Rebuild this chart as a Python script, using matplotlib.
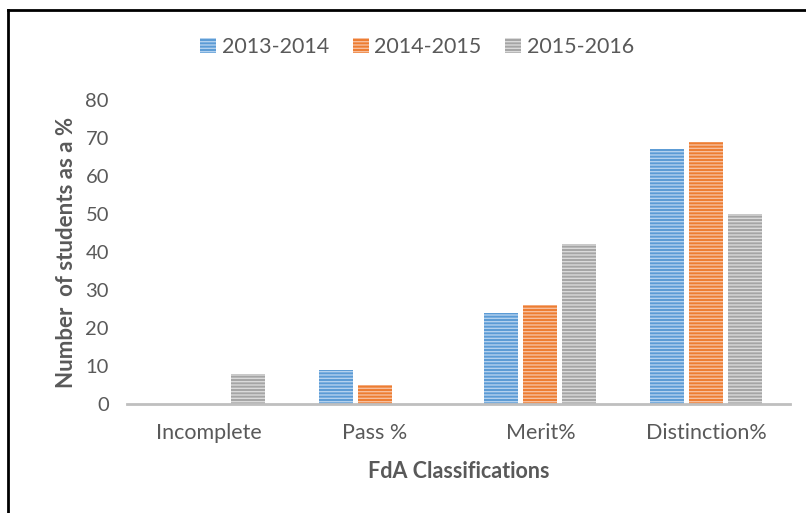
import matplotlib
matplotlib.use("Agg")
import matplotlib.pyplot as plt
from matplotlib.lines import Line2D
import numpy as np

categories = ["Incomplete", "Pass %", "Merit%", "Distinction%"]
series_names = ["2013-2014", "2014-2015", "2015-2016"]
v2013 = [0, 9, 24, 67]
v2014 = [0, 5, 26, 69]
v2015 = [8, 0, 42, 50]
yticks = [0, 10, 20, 30, 40, 50, 60, 70, 80]

face_colors = ["#5b9bd5", "#ed7d31", "#a5a5a5"]
hatch_colors = ["#b3d1ee", "#f7bf9e", "#dadada"]

plt.rcParams['font.family'] = ['Lato', 'DejaVu Sans']
plt.rcParams['hatch.linewidth'] = 1.0

fig = plt.figure(figsize=(8.06, 5.13), dpi=100)
ax = fig.add_axes([127/806, 1-404/513, (790-127)/806, (404-100)/513])

x = np.arange(len(categories))
width = 0.205
offset = 0.235
handles = []
for i, vals in enumerate([v2013, v2014, v2015]):
    bars = ax.bar(x + (i-1)*offset, vals, width, color=face_colors[i],
                  edgecolor=hatch_colors[i], linewidth=0, hatch='-----',
                  label=series_names[i], zorder=2)
    handles.append(bars)

ax.set_xlim(-0.494, 3.506)
ax.set_ylim(0, 80)
ax.set_yticks(yticks)
ax.set_xticks(x)
ax.set_xticklabels(categories)
for s in ['top', 'right', 'left']:
    ax.spines[s].set_visible(False)
ax.spines['bottom'].set_color('#bfbfbf')
ax.spines['bottom'].set_linewidth(2)
ax.spines['bottom'].set_zorder(3)
ax.tick_params(axis='both', length=0, colors='#595959')
ax.tick_params(axis='y', labelsize=14.5, pad=13)
ax.tick_params(axis='x', labelsize=15.5, pad=14)
ax.set_ylabel("Number  of students as a %", fontsize=16, fontweight='bold',
              color='#595959', labelpad=6)
ax.set_xlabel("FdA Classifications", fontsize=15.5, fontweight='bold',
              color='#595959', labelpad=13)

leg = fig.legend(handles=handles, labels=series_names, loc='center',
                 bbox_to_anchor=(417/806, 1-47/513), ncol=3, frameon=False,
                 fontsize=15.5, handlelength=0.75, handleheight=0.75,
                 handletextpad=0.25, columnspacing=1.1, labelcolor='#595959')

fig.add_artist(Line2D([8/806, 8/806], [0, 1-10/513], transform=fig.transFigure,
                      color='black', linewidth=2))
fig.add_artist(Line2D([8/806, 1], [1-10/513, 1-10/513], transform=fig.transFigure,
                      color='black', linewidth=2))

fig.savefig("out.png", dpi=100)
